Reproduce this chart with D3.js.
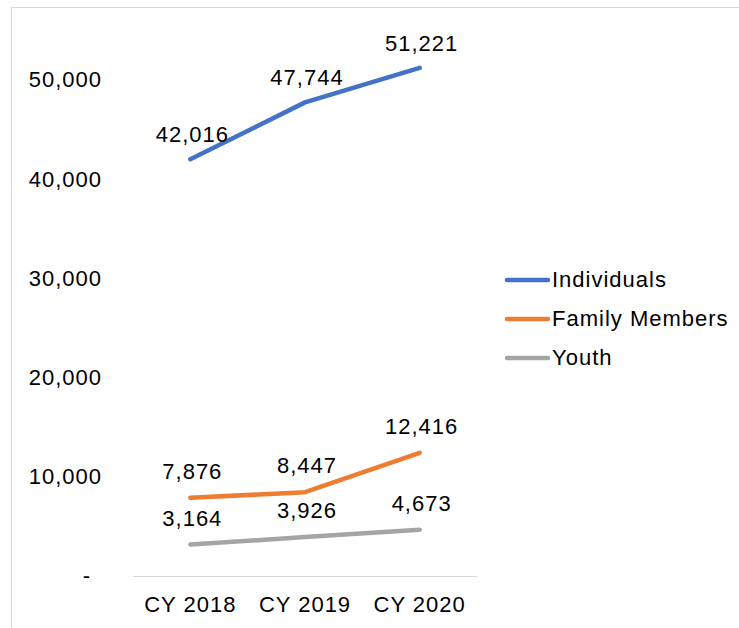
<!DOCTYPE html>
<html>
<head>
<meta charset="utf-8">
<script src="https://cdn.jsdelivr.net/npm/d3@7"></script>
<style>
  body { margin: 0; background: #fff; }
  text { font-family: "Liberation Sans", Arial, sans-serif; font-size: 22px; letter-spacing: 1px; fill: #000; }
</style>
</head>
<body>
<div id="chart"></div>
<script>
var svgWidth = 739;
var svgHeight = 628;

// data
var years = ["CY 2018", "CY 2019", "CY 2020"];
var individuals = [42016, 47744, 51221];
var familyMembers = [7876, 8447, 12416];
var youth = [3164, 3926, 4673];
var seriesNames = ["Individuals", "Family Members", "Youth"];
var seriesColors = ["#4472C4", "#ED7D31", "#A5A5A5"];
var yTicks = [0, 10000, 20000, 30000, 40000, 50000];

var series = [individuals, familyMembers, youth];

var svg = d3.select("#chart")
  .append("svg")
  .attr("width", svgWidth)
  .attr("height", svgHeight);

// outer frame
svg.append("rect")
  .attr("x", 11.5)
  .attr("y", 7.5)
  .attr("width", svgWidth)
  .attr("height", svgHeight)
  .attr("fill", "none")
  .attr("stroke", "#d9d9d9");

var plotLeft = 133, plotRight = 477, plotBottom = 576;

var xScale = d3.scaleBand()
  .domain(years)
  .range([plotLeft, plotRight]);

var yScale = d3.scaleLinear()
  .domain([0, 50000])
  .range([plotBottom, 80]);

// x axis line
svg.append("line")
  .attr("x1", plotLeft)
  .attr("x2", plotRight)
  .attr("y1", plotBottom + 0.5)
  .attr("y2", plotBottom + 0.5)
  .attr("stroke", "#d9d9d9");

// x labels
svg.selectAll(".xlabel")
  .data(years)
  .enter()
  .append("text")
  .attr("class", "xlabel")
  .attr("x", d => xScale(d) + xScale.bandwidth() / 2)
  .attr("y", 612)
  .attr("text-anchor", "middle")
  .text(d => d);

// y labels
var fmt = d3.format(",");
svg.selectAll(".ylabel")
  .data(yTicks)
  .enter()
  .append("text")
  .attr("class", "ylabel")
  .attr("x", d => d === 0 ? 91 : 102)
  .attr("y", d => yScale(d))
  .attr("dy", "0.34em")
  .attr("text-anchor", "end")
  .text(d => d === 0 ? "-" : fmt(d));

var line = d3.line()
  .x((d, i) => xScale(years[i]) + xScale.bandwidth() / 2)
  .y(d => yScale(d));

series.forEach(function(values, s) {
  svg.append("path")
    .datum(values)
    .attr("d", line)
    .attr("fill", "none")
    .attr("stroke", seriesColors[s])
    .attr("stroke-width", 4.5)
    .attr("stroke-linecap", "round")
    .attr("stroke-linejoin", "round");

  svg.selectAll(".lbl" + s)
    .data(values)
    .enter()
    .append("text")
    .attr("class", "lbl" + s)
    .attr("x", (d, i) => xScale(years[i]) + xScale.bandwidth() / 2 + 2)
    .attr("y", d => yScale(d) - (s === 0 ? 17 : 19))
    .attr("text-anchor", "middle")
    .text(d => fmt(d));
});

// legend
var legend = svg.selectAll(".legend")
  .data(seriesNames)
  .enter()
  .append("g")
  .attr("class", "legend")
  .attr("transform", (d, i) => `translate(507, ${280 + i * 39})`);

legend.append("line")
  .attr("x1", 0)
  .attr("x2", 41)
  .attr("stroke", (d, i) => seriesColors[i])
  .attr("stroke-width", 4.5)
  .attr("stroke-linecap", "round");

legend.append("text")
  .attr("x", 45)
  .attr("dy", "0.34em")
  .text(d => d);
</script>
</body>
</html>
